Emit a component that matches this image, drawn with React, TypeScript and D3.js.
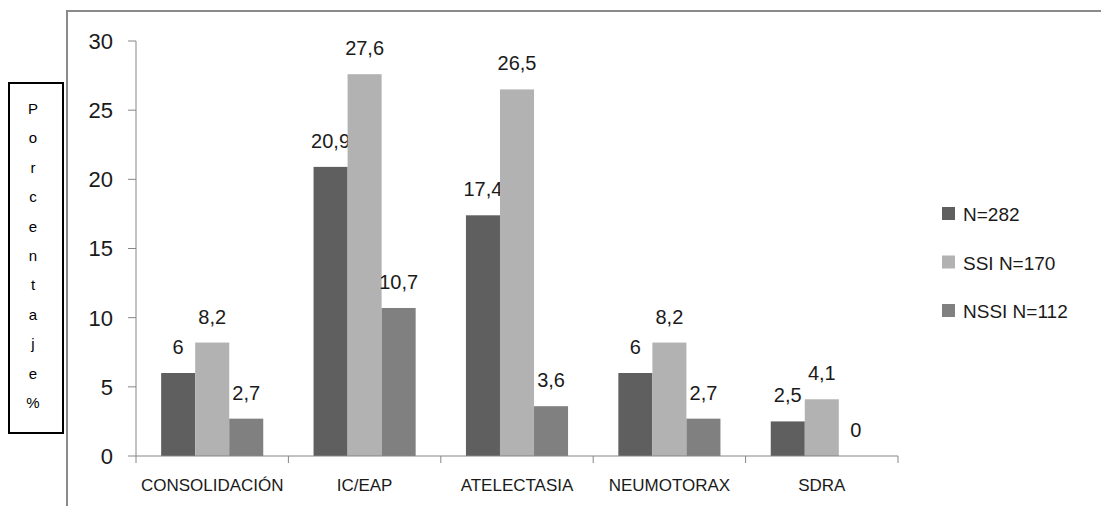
import React from "react";
import * as d3 from "d3";

// Radiological findings (percent) by group
const categories = ["CONSOLIDACIÓN", "IC/EAP", "ATELECTASIA", "NEUMOTORAX", "SDRA"];
const seriesNames = ["N=282", "SSI N=170", "NSSI N=112"];
const totalValues = [6, 20.9, 17.4, 6, 2.5];
const ssiValues = [8.2, 27.6, 26.5, 8.2, 4.1];
const nssiValues = [2.7, 10.7, 3.6, 2.7, 0];
const yTicks = [0, 5, 10, 15, 20, 25, 30];
const axisLabel = "Porcentaje%";

const seriesColors = ["#5f5f5f", "#b2b2b2", "#808080"];

const W = 1101;
const H = 506;
const FONT = "'Liberation Sans', Arial, sans-serif";

export default function App() {
  const seriesValues = [totalValues, ssiValues, nssiValues];
  const left = 136;
  const right = 898;
  const bottom = 456;
  const top = 41;

  const y = d3.scaleLinear().domain([0, 30]).range([bottom, top]);
  const x = d3
    .scaleBand<string>()
    .domain(categories)
    .range([left, right])
    .paddingInner(0.33)
    .paddingOuter(0.165);
  const xs = d3
    .scaleBand<string>()
    .domain(seriesNames)
    .range([0, x.bandwidth()])
    .padding(0);

  const step = (right - left) / categories.length;
  const boundaries = d3.range(categories.length + 1).map((i) => left + i * step);
  const fmt = (v: number) => String(v).replace(".", ",");
  const axisColor = "#868686";
  const textColor = "#1a1a1a";

  const labelChars = Array.from(axisLabel);

  return (
    <svg
      width={W}
      height={H}
      style={{ position: "absolute", left: 0, top: 0, background: "#fff" }}
      fontFamily={FONT}
    >
      <rect x={0} y={0} width={W} height={H} fill="#fff" />
      {/* chart area frame */}
      <path d={`M67,${H} V11 H${W}`} fill="none" stroke="#8a8a8a" strokeWidth={2} />

      {/* y axis title box */}
      <rect x={9} y={83} width={54} height={350} fill="#fff" stroke="#000" strokeWidth={2} />
      {labelChars.map((c, i) => (
        <text
          key={i}
          x={33}
          y={114 + i * 29.4}
          textAnchor="middle"
          fontSize={15}
          fill="#000"
        >
          {c}
        </text>
      ))}

      {/* bars */}
      {categories.map((cat, ci) =>
        seriesNames.map((s, si) => {
          const v = seriesValues[si][ci];
          const bx = (x(cat) as number) + (xs(s) as number);
          const bw = xs.bandwidth();
          return (
            <g key={cat + s}>
              {v > 0 && (
                <rect x={bx} y={y(v)} width={bw} height={y(0) - y(v)} fill={seriesColors[si]} />
              )}
              <text
                x={bx + bw / 2}
                y={y(v) - 19}
                textAnchor="middle"
                fontSize={20}
                fill={textColor}
              >
                {fmt(v)}
              </text>
            </g>
          );
        })
      )}

      {/* y axis */}
      <line x1={left} x2={left} y1={y(30)} y2={y(0)} stroke={axisColor} strokeWidth={1} />
      {yTicks.map((t) => (
        <g key={t}>
          <line x1={left - 8} x2={left} y1={y(t)} y2={y(t)} stroke={axisColor} />
          <text
            x={113}
            y={y(t)}
            dy="0.36em"
            textAnchor="end"
            fontSize={22}
            fill={textColor}
          >
            {t}
          </text>
        </g>
      ))}

      {/* x axis */}
      <line x1={left} x2={right} y1={bottom} y2={bottom} stroke={axisColor} strokeWidth={1} />
      {boundaries.map((bx, i) => (
        <line key={i} x1={bx} x2={bx} y1={bottom} y2={bottom + 7} stroke={axisColor} />
      ))}
      {categories.map((cat) => (
        <text
          key={cat}
          x={(x(cat) as number) + x.bandwidth() / 2}
          y={491}
          textAnchor="middle"
          fontSize={17}
          fill={textColor}
        >
          {cat}
        </text>
      ))}

      {/* legend */}
      {seriesNames.map((s, i) => (
        <g key={s} transform={`translate(942, ${221 + i * 48.5})`}>
          <rect x={0} y={-14} width={13} height={13} fill={seriesColors[i]} />
          <text x={21} y={0} fontSize={19} fill={textColor}>
            {s}
          </text>
        </g>
      ))}
    </svg>
  );
}
